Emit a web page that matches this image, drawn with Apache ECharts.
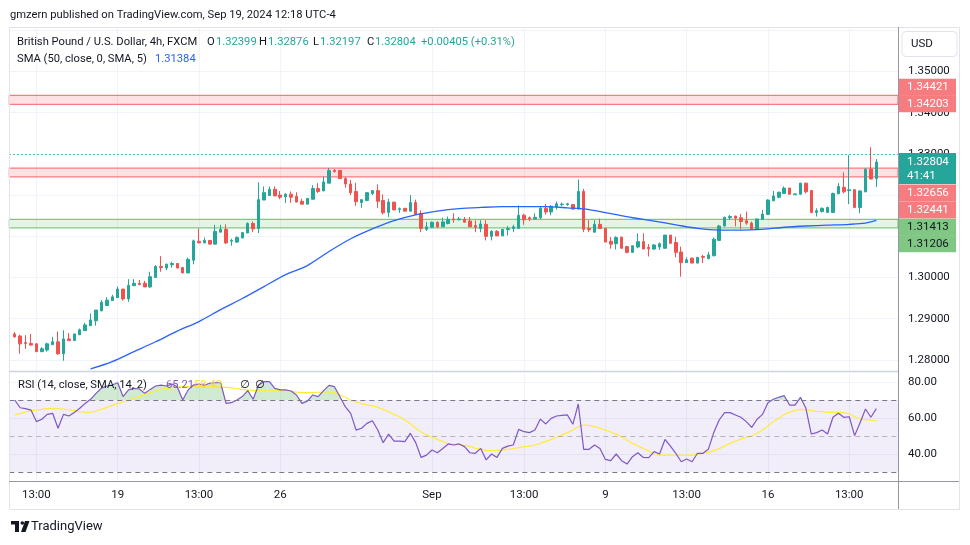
<!DOCTYPE html>
<html>
<head>
<meta charset="utf-8">
<script src="https://cdn.jsdelivr.net/npm/echarts@6.0.0/dist/echarts.min.js"></script>
<style>
html,body{margin:0;padding:0;background:#ffffff;}
#chart{width:970px;height:545px;}
</style>
</head>
<body>
<div id="chart"></div>
<script>
// ---------- DATA ----------
// 4h FXCM sessions (UTC-4): date and bar opening hours
const sessions = [
  ['2024-08-13',[21]], ['2024-08-14',[1,5,9,13,17,21]], ['2024-08-15',[1,5,9,13,17,21]], ['2024-08-16',[1,5,9,13]],
  ['2024-08-18',[17,21]], ['2024-08-19',[1,5,9,13,17,21]], ['2024-08-20',[1,5,9,13,17,21]], ['2024-08-21',[1,5,9,13,17,21]],
  ['2024-08-22',[1,5,9,13,17,21]], ['2024-08-23',[1,5,9,13]], ['2024-08-25',[17,21]], ['2024-08-26',[1,5,9,13,17,21]],
  ['2024-08-27',[1,5,9,13,17,21]], ['2024-08-28',[1,5,9,13,17,21]], ['2024-08-29',[1,5,9,13,17,21]], ['2024-08-30',[1,5,9,13]],
  ['2024-09-01',[17,21]], ['2024-09-02',[1,5,9,13,17,21]], ['2024-09-03',[1,5,9,13,17,21]], ['2024-09-04',[1,5,9,13,17,21]],
  ['2024-09-05',[1,5,9,13,17,21]], ['2024-09-06',[1,5,9,13]], ['2024-09-08',[17,21]], ['2024-09-09',[1,5,9,13,17,21]],
  ['2024-09-10',[1,5,9,13,17,21]], ['2024-09-11',[1,5,9,13,17,21]], ['2024-09-12',[1,5,9,13,17,21]], ['2024-09-13',[1,5,9,13]],
  ['2024-09-15',[17,21]], ['2024-09-16',[1,5,9,13,17,21]], ['2024-09-17',[1,5,9,13,17,21]], ['2024-09-18',[1,5,9,13,17,21]],
  ['2024-09-19',[1,5,9]]
];

const opens = [
1.2863,1.2858,1.2842,1.2840,1.2839,1.2820,1.2824,1.2837,1.2844,1.2815,
1.2851,1.2847,1.2861,1.2871,1.2883,1.2895,1.2919,1.2932,1.2944,1.2951,
1.2972,1.2948,1.2980,1.2986,1.2986,1.2977,1.3000,1.3027,1.3023,1.3031,
1.3034,1.3024,1.3011,1.3042,1.3088,1.3084,1.3090,1.3081,1.3110,1.3117,
1.3088,1.3086,1.3096,1.3108,1.3131,1.3119,1.3188,1.3199,1.3214,1.3200,
1.3196,1.3202,1.3197,1.3185,1.3178,1.3190,1.3216,1.3210,1.3229,1.3260,
1.3260,1.3240,1.3227,1.3209,1.3182,1.3187,1.3204,1.3211,1.3187,1.3158,
1.3183,1.3165,1.3168,1.3161,1.3182,1.3155,1.3117,1.3122,1.3134,1.3123,
1.3131,1.3142,1.3140,1.3141,1.3137,1.3126,1.3119,1.3129,1.3100,1.3112,
1.3101,1.3116,1.3119,1.3119,1.3151,1.3145,1.3142,1.3145,1.3168,1.3159,
1.3171,1.3177,1.3177,1.3177,1.3166,1.3209,1.3119,1.3110,1.3129,1.3119,
1.3088,1.3082,1.3098,1.3075,1.3061,1.3074,1.3087,1.3073,1.3069,1.3074,
1.3071,1.3103,1.3085,1.3062,1.3036,1.3047,1.3035,1.3051,1.3046,1.3053,
1.3090,1.3125,1.3145,1.3149,1.3145,1.3138,1.3132,1.3117,1.3141,1.3153,
1.3186,1.3195,1.3204,1.3217,1.3201,1.3202,1.3229,1.3211,1.3158,1.3160,
1.3158,1.3158,1.3203,1.3219,1.3211,1.3213,1.3170,1.3208,1.3263,1.32399];

const highs = [
1.2868,1.2861,1.2860,1.2863,1.2840,1.2831,1.2842,1.2856,1.2869,1.2872,
1.2865,1.2863,1.2876,1.2890,1.2913,1.2921,1.2945,1.2952,1.2958,1.2978,
1.2972,1.2996,1.2996,1.2994,1.2992,1.3014,1.3030,1.3052,1.3034,1.3038,
1.3034,1.3026,1.3048,1.3092,1.3119,1.3097,1.3090,1.3128,1.3128,1.3129,
1.3094,1.3100,1.3109,1.3134,1.3136,1.3231,1.3221,1.3221,1.3221,1.3210,
1.3205,1.3209,1.3207,1.3191,1.3193,1.3224,1.3229,1.3245,1.3266,1.3263,
1.3261,1.3244,1.3237,1.3230,1.3189,1.3207,1.3211,1.3226,1.3202,1.3191,
1.3183,1.3170,1.3168,1.3200,1.3189,1.3163,1.3135,1.3136,1.3136,1.3145,
1.3148,1.3156,1.3147,1.3147,1.3147,1.3139,1.3139,1.3139,1.3115,1.3115,
1.3117,1.3125,1.3128,1.3175,1.3155,1.3148,1.3156,1.3171,1.3179,1.3175,
1.3184,1.3182,1.3181,1.3177,1.3238,1.3215,1.3139,1.3139,1.3143,1.3119,
1.3098,1.3100,1.3099,1.3077,1.3077,1.3107,1.3107,1.3081,1.3081,1.3085,
1.3103,1.3103,1.3099,1.3075,1.3049,1.3049,1.3049,1.3055,1.3062,1.3097,
1.3128,1.3148,1.3152,1.3150,1.3154,1.3160,1.3136,1.3143,1.3164,1.3190,
1.3210,1.3208,1.3221,1.3218,1.3203,1.3230,1.3230,1.3212,1.3168,1.3170,
1.3172,1.3206,1.3229,1.3255,1.3297,1.3214,1.3212,1.3265,1.3316,1.32876];

const lows = [
1.2854,1.2815,1.2827,1.2835,1.2819,1.2819,1.2820,1.2837,1.2812,1.2798,
1.2847,1.2847,1.2861,1.2871,1.2883,1.2883,1.2919,1.2931,1.2944,1.2951,
1.2944,1.2941,1.2980,1.2981,1.2977,1.2975,1.3000,1.3014,1.3018,1.3024,
1.3023,1.3011,1.3011,1.3032,1.3084,1.3084,1.3081,1.3081,1.3110,1.3081,
1.3077,1.3084,1.3096,1.3108,1.3110,1.3108,1.3188,1.3198,1.3198,1.3190,
1.3181,1.3181,1.3183,1.3178,1.3178,1.3190,1.3205,1.3210,1.3229,1.3255,
1.3240,1.3218,1.3200,1.3174,1.3169,1.3185,1.3200,1.3169,1.3153,1.3147,
1.3164,1.3157,1.3161,1.3161,1.3153,1.3110,1.3113,1.3120,1.3120,1.3123,
1.3129,1.3133,1.3139,1.3134,1.3123,1.3110,1.3110,1.3090,1.3090,1.3101,
1.3101,1.3102,1.3110,1.3119,1.3128,1.3137,1.3142,1.3141,1.3153,1.3151,
1.3165,1.3173,1.3174,1.3166,1.3166,1.3110,1.3110,1.3110,1.3119,1.3086,
1.3070,1.3068,1.3069,1.3059,1.3061,1.3071,1.3069,1.3051,1.3067,1.3067,
1.3070,1.3083,1.3049,1.3002,1.3036,1.3035,1.3035,1.3035,1.3044,1.3051,
1.3090,1.3124,1.3140,1.3124,1.3117,1.3128,1.3117,1.3116,1.3140,1.3152,
1.3186,1.3192,1.3203,1.3202,1.3201,1.3202,1.3204,1.3156,1.3148,1.3158,
1.3157,1.3157,1.3203,1.3204,1.3178,1.3168,1.3156,1.3207,1.3239,1.32197];

const closes = [
1.2856,1.2839,1.2840,1.2836,1.2820,1.2827,1.2839,1.2844,1.2815,1.2851,
1.2847,1.2863,1.2873,1.2885,1.2897,1.2921,1.2940,1.2945,1.2953,1.2972,
1.2948,1.2981,1.2986,1.2983,1.2977,1.3002,1.3027,1.3024,1.3032,1.3034,
1.3023,1.3011,1.3044,1.3089,1.3084,1.3090,1.3081,1.3112,1.3117,1.3084,
1.3090,1.3097,1.3109,1.3131,1.3118,1.3189,1.3206,1.3214,1.3198,1.3195,
1.3202,1.3195,1.3183,1.3178,1.3192,1.3216,1.3209,1.3232,1.3260,1.3257,
1.3240,1.3227,1.3206,1.3184,1.3189,1.3206,1.3211,1.3185,1.3157,1.3183,
1.3164,1.3167,1.3161,1.3182,1.3153,1.3119,1.3123,1.3134,1.3123,1.3135,
1.3141,1.3140,1.3142,1.3134,1.3123,1.3122,1.3130,1.3100,1.3112,1.3101,
1.3117,1.3119,1.3123,1.3151,1.3140,1.3142,1.3146,1.3168,1.3159,1.3173,
1.3179,1.3178,1.3179,1.3166,1.3209,1.3117,1.3116,1.3129,1.3119,1.3086,
1.3081,1.3097,1.3071,1.3061,1.3077,1.3087,1.3069,1.3070,1.3079,1.3082,
1.3103,1.3083,1.3061,1.3036,1.3043,1.3035,1.3049,1.3049,1.3055,1.3093,
1.3125,1.3146,1.3148,1.3144,1.3136,1.3132,1.3117,1.3142,1.3154,1.3188,
1.3198,1.3207,1.3217,1.3202,1.3203,1.3229,1.3208,1.3158,1.3162,1.3168,
1.3170,1.3204,1.3221,1.3208,1.3213,1.3170,1.3210,1.3263,1.3239,1.32804];

// SMA(50) read at sampled bars (bar index, value)
const smaIdx = [14,18,22,26,30,34,38,42,46,50,54,58,62,66,70,74,78,82,86,90,94,98,102,106,110,114,118,122,126,130,134,138,142,146,150,154,157,159];
const smaVal = [1.2778,1.2796,1.2820,1.2844,1.2870,1.2893,1.2922,1.2949,1.2978,1.3007,1.3029,1.3063,1.3094,1.3118,1.3138,1.3152,1.3161,1.3167,1.3170,1.3172,1.3172,1.3172,1.3169,1.3165,1.3155,1.3145,1.3137,1.3128,1.3119,1.3115,1.3115,1.3117,1.3122,1.3125,1.3127,1.3129,1.3132,1.31384];

const rsi = [
70.0,65.7,65.2,64.4,58.0,59.3,62.0,62.6,54.3,62.0,
61.1,63.1,65.4,68.1,70.4,73.7,76.5,77.8,78.3,79.6,
71.9,75.6,76.5,76.1,73.7,75.9,77.8,78.3,77.8,78.9,
77.4,70.0,75.6,78.3,78.9,78.3,79.3,79.6,79.6,68.1,
68.5,70.0,71.9,75.2,70.4,78.3,80.2,80.2,76.5,75.6,
75.6,75.0,72.8,68.1,69.4,72.8,71.9,75.2,78.1,77.4,
71.9,66.3,62.6,53.3,54.3,57.0,58.5,53.3,46.3,51.1,
47.2,47.2,46.9,51.5,46.3,38.1,39.4,42.2,40.7,43.1,
45.6,45.0,45.6,44.1,40.7,40.4,43.1,36.7,40.0,38.1,
43.1,44.4,45.0,53.7,52.4,51.9,53.3,59.4,56.7,59.8,
61.1,61.5,61.7,56.5,67.8,42.6,42.6,45.0,43.1,37.0,
36.3,40.0,36.3,34.4,38.5,40.7,38.1,38.0,41.3,40.0,
48.1,44.4,40.4,35.7,37.2,35.7,40.4,40.4,42.6,51.9,
58.9,63.0,63.0,61.7,60.4,58.0,54.8,59.3,62.0,68.5,
70.4,71.5,72.4,67.2,67.2,71.5,65.4,51.1,51.9,53.3,
51.1,60.4,62.6,60.4,60.7,50.2,57.4,65.0,60.4,65.21];

const rsiMa = [
61.5,62.6,63.3,64.1,64.4,64.8,65.2,65.4,65.2,65.0,
64.6,64.1,63.5,63.1,63.1,63.9,64.8,65.9,67.0,68.1,
68.9,70.0,70.9,72.0,73.0,74.1,75.0,75.9,76.5,76.9,
77.2,77.4,77.4,77.4,77.4,77.4,77.4,77.4,77.2,77.0,
76.7,76.3,75.9,75.6,75.2,75.2,75.4,75.6,75.4,75.2,
75.0,74.8,74.4,74.1,74.1,74.1,74.3,74.3,74.3,74.1,
72.8,71.5,70.0,68.9,68.0,67.2,66.7,65.9,64.8,63.5,
62.0,60.7,58.9,57.0,54.3,52.4,50.6,49.3,48.1,47.0,
45.6,45.4,45.2,44.8,44.4,43.1,42.6,42.0,41.9,42.0,
42.2,42.6,43.0,43.5,44.1,44.4,45.0,45.9,47.0,48.1,
49.3,50.6,51.9,53.3,55.2,56.1,55.9,55.2,54.3,53.3,
52.2,50.9,49.6,47.8,45.9,44.4,43.1,41.7,40.0,39.4,
39.4,39.4,39.4,39.4,39.4,39.3,39.8,40.4,40.9,41.9,
43.0,44.4,45.9,47.2,48.3,49.3,50.0,51.5,53.3,55.6,
58.0,59.8,62.0,63.3,64.3,64.8,64.6,64.1,63.7,63.5,
63.1,63.1,63.0,63.0,62.2,60.7,59.6,59.1,58.7,58.43];

// Drawn zones and price tags
const redZoneA = [1.34421, 1.34203];
const redZoneB = [1.32656, 1.32441];
const greenZone = [1.31413, 1.31206];
const lastPrice = 1.32804;
const tagValues = [1.34421, 1.34203, 1.32804, 1.32656, 1.32441, 1.31413, 1.31206];
const tagTexts = ['1.34421','1.34203','1.32804','1.32656','1.32441','1.31413','1.31206'];

// Time-axis tick labels
const tickCats = ['2024-08-14 13:00','2024-08-19 01:00','2024-08-21 13:00','2024-08-26 01:00','2024-09-01 17:00','2024-09-04 13:00','2024-09-09 01:00','2024-09-11 13:00','2024-09-16 01:00','2024-09-18 13:00'];
const tickText = ['13:00','19','13:00','26','Sep','13:00','9','13:00','16','13:00'];

// ---------- BUILD ----------
const times = [];
sessions.forEach(([d, hs]) => hs.forEach(h => times.push(d + ' ' + String(h).padStart(2,'0') + ':00')));
const cats = ['pad-1'].concat(times, ['pad+1','pad+2','pad+3','pad+4']);

const FONT = 'Roboto, "DejaVu Sans", sans-serif';
const UP = '#26a69a', DOWN = '#ef5350';
const GRID = '#f0f3fa';
const TXT = '#131722';
const FS = 11.2;   // legend font size
const AFS = 11.5;  // scale font size

const candleData = times.map((t, i) => [t, opens[i], closes[i], lows[i], highs[i]]);
const smaData = smaIdx.map((k, j) => [times[k], smaVal[j]]);
const rsiData = times.map((t, i) => [t, rsi[i]]);
const rsiMaData = times.map((t, i) => [t, rsiMa[i]]);

const showTick = (idx, val) => tickCats.indexOf(val) >= 0;

const chart = echarts.init(document.getElementById('chart'), null, {renderer: 'canvas'});

const option = {
  animation: false,
  backgroundColor: '#ffffff',
  textStyle: {fontFamily: FONT},
  grid: [
    {left: 9.3, top: 27, width: 888.7, height: 343},
    {left: 9.3, top: 372, width: 888.7, height: 109}
  ],
  xAxis: [
    {type: 'category', gridIndex: 0, data: cats, boundaryGap: false,
     axisLine: {show: false}, axisTick: {show: false}, axisLabel: {show: false},
     splitLine: {show: true, interval: showTick, lineStyle: {color: GRID, width: 1}}},
    {type: 'category', gridIndex: 1, data: cats, boundaryGap: false,
     axisLine: {show: false}, axisTick: {show: false},
     axisLabel: {show: true, interval: showTick, color: TXT, fontSize: AFS, fontFamily: FONT, margin: 8,
       formatter: v => { const k = tickCats.indexOf(v); return k >= 0 ? tickText[k] : ''; }},
     splitLine: {show: true, interval: showTick, lineStyle: {color: GRID, width: 1}}}
  ],
  yAxis: [
    {type: 'value', gridIndex: 0, position: 'right', min: 1.27755, max: 1.3608, splitNumber: 8,
     axisLine: {show: false}, axisTick: {show: false},
     axisLabel: {color: TXT, fontSize: AFS, fontFamily: FONT, margin: 10,
       formatter: v => (v > 1.355 || v < 1.2799) ? '' : v.toFixed(5)},
     splitLine: {show: true, lineStyle: {color: GRID, width: 1}}},
    {type: 'value', gridIndex: 1, position: 'right', min: 25, max: 85.56, splitNumber: 3,
     axisLine: {show: false}, axisTick: {show: false},
     axisLabel: {color: TXT, fontSize: AFS, fontFamily: FONT, margin: 10,
       formatter: v => (Math.abs(v - Math.round(v / 20) * 20) < 0.01 && v > 30 && v < 85) ? v.toFixed(2) : ''},
     splitLine: {show: true, lineStyle: {color: GRID, width: 1}}}
  ],
  visualMap: [{
    type: 'piecewise', show: false, seriesIndex: 2, dimension: 1,
    pieces: [{gt: 70, lte: 100, color: 'rgba(76,175,80,0.26)'}, {gte: 0, lte: 70, color: 'rgba(255,255,255,0)'}]
  }],
  series: [
    {
      type: 'candlestick', name: 'GBPUSD', xAxisIndex: 0, yAxisIndex: 0,
      data: candleData, encode: {x: 0, y: [1, 2, 3, 4]},
      barWidth: 3,
      itemStyle: {color: UP, color0: DOWN, borderColor: UP, borderColor0: DOWN, borderWidth: 1},
      markArea: {
        silent: true,
        data: [
          [{yAxis: redZoneA[0], itemStyle: {color: 'rgba(242,54,69,0.15)', borderColor: '#f77c80', borderWidth: 1.2}}, {yAxis: redZoneA[1]}],
          [{yAxis: redZoneB[0], itemStyle: {color: 'rgba(242,54,69,0.15)', borderColor: '#f77c80', borderWidth: 1.2}}, {yAxis: redZoneB[1]}],
          [{yAxis: greenZone[0], itemStyle: {color: 'rgba(76,175,80,0.14)', borderColor: '#81c784', borderWidth: 1.2}}, {yAxis: greenZone[1]}]
        ]
      },
      markLine: {
        silent: true, symbol: ['none', 'none'], label: {show: false},
        data: [{yAxis: lastPrice, lineStyle: {color: UP, type: [1.5, 2.5], width: 1}}]
      },
      z: 3
    },
    {
      type: 'line', name: 'SMA', xAxisIndex: 0, yAxisIndex: 0, data: smaData,
      showSymbol: false, smooth: 0.3, lineStyle: {color: '#2962ff', width: 1.3}, z: 4
    },
    {
      type: 'line', name: 'RSI fill', xAxisIndex: 1, yAxisIndex: 1, data: rsiData,
      showSymbol: false, lineStyle: {opacity: 0, width: 0}, areaStyle: {origin: 70, opacity: 1}, z: 2
    },
    {
      type: 'line', name: 'RSI-MA', xAxisIndex: 1, yAxisIndex: 1, data: rsiMaData,
      showSymbol: false, lineStyle: {color: '#ffeb3b', width: 1.2}, z: 3
    },
    {
      type: 'line', name: 'RSI', xAxisIndex: 1, yAxisIndex: 1, data: rsiData,
      showSymbol: false, lineStyle: {color: '#7e57c2', width: 1.2}, z: 4,
      markArea: {silent: true, data: [[{yAxis: 70, itemStyle: {color: 'rgba(126,87,194,0.1)'}}, {yAxis: 30}]]},
      markLine: {
        silent: true, symbol: ['none', 'none'], label: {show: false},
        data: [
          {yAxis: 70, lineStyle: {color: '#787b86', type: [5, 4], width: 1}},
          {yAxis: 50, lineStyle: {color: 'rgba(120,123,134,0.5)', type: [5, 4], width: 1}},
          {yAxis: 30, lineStyle: {color: '#787b86', type: [5, 4], width: 1}}
        ]
      }
    }
  ]
};
chart.setOption(option);

// ---------- decorations / legends / price tags ----------
const T = (x, y, text, color, size, weight) => ({
  type: 'text', x: x, y: y, z: 100, silent: true,
  style: {text: text, fill: color, font: (weight || 'normal') + ' ' + size + 'px ' + FONT,
          verticalAlign: 'middle', textVerticalAlign: 'middle', align: 'left'}
});
const L = (x1, y1, x2, y2, c) => ({type: 'line', z: 90, silent: true, shape: {x1, y1, x2, y2}, style: {stroke: c, lineWidth: 1}});

const g = [];
g.push({type: 'rect', z: 80, silent: true, shape: {x: 9.5, y: 27.5, width: 950, height: 482}, style: {fill: 'none', stroke: '#e0e3eb', lineWidth: 1}});
g.push(L(9, 371.5, 898, 371.5, '#d1d4dc'));
g.push(L(9, 481.5, 959, 481.5, '#9598a1'));
g.push(L(898.5, 27, 898.5, 509, '#9598a1'));

g.push(T(10, 15, 'gmzern published on TradingView.com, Sep 19, 2024 12:18 UTC-4', TXT, FS));
g.push(T(17, 42, 'British Pound / U.S. Dollar, 4h, FXCM', TXT, FS));
g.push(T(207, 42, 'O', TXT, FS)); g.push(T(216, 42, '1.32399', UP, FS));
g.push(T(259, 42, 'H', TXT, FS)); g.push(T(268, 42, '1.32876', UP, FS));
g.push(T(313, 42, 'L', TXT, FS)); g.push(T(320, 42, '1.32197', UP, FS));
g.push(T(367, 42, 'C', TXT, FS)); g.push(T(375, 42, '1.32804', UP, FS));
g.push(T(421, 42, '+0.00405 (+0.31%)', UP, FS));
g.push(T(17, 59, 'SMA (50, close, 0, SMA, 5)', TXT, FS));
g.push(T(155, 59, '1.31384', '#2962ff', FS));
g.push(T(18, 385, 'RSI (14, close, SMA, 14, 2)', TXT, FS));
g.push(T(166, 385, '65.21', '#7e57c2', FS));
g.push(T(194, 385, '58.43', '#fdd835', FS));
g.push(T(240, 385, '\u2205', TXT, FS));
g.push(T(255, 385, '\u2205', TXT, FS));

// USD button
g.push({type: 'rect', z: 95, silent: true, shape: {x: 902, y: 31.5, width: 55, height: 25, r: 4}, style: {fill: '#ffffff', stroke: '#e0e3eb', lineWidth: 1}});
g.push(T(911, 44.5, 'USD', TXT, AFS));

// price tags (positions derived from the price scale, shifted to avoid overlap)
const tagStyle = [
  {bg: '#f77c80', fg: '#ffffff', shift: -8},
  {bg: '#f77c80', fg: '#ffffff', shift: -0.6},
  {bg: UP,        fg: '#ffffff', shift: 0, extra: '41:41'},
  {bg: '#f77c80', fg: '#ffffff', shift: 25},
  {bg: '#f77c80', fg: '#ffffff', shift: 33},
  {bg: '#81c784', fg: TXT,       shift: 8},
  {bg: '#81c784', fg: TXT,       shift: 16}
];
tagValues.forEach((v, i) => {
  const s = tagStyle[i];
  const cy = chart.convertToPixel({yAxisIndex: 0}, v) + s.shift;
  const h = s.extra ? 31 : 17;
  const top = s.extra ? cy - 9 : cy - 8.5;
  g.push({type: 'rect', z: 96, silent: true, shape: {x: 899, y: top, width: 57, height: h}, style: {fill: s.bg}});
  g.push(Object.assign(T(907, cy, tagTexts[i], s.fg, AFS), {z: 97}));
  if (s.extra) g.push(Object.assign(T(907, cy + 14, s.extra, s.fg, AFS), {z: 97}));
});

// TradingView logo
g.push({type: 'rect', z: 100, silent: true, shape: {x: 11, y: 521, width: 8, height: 3.5}, style: {fill: '#131722'}});
g.push({type: 'rect', z: 100, silent: true, shape: {x: 15, y: 521, width: 4, height: 11}, style: {fill: '#131722'}});
g.push({type: 'circle', z: 100, silent: true, shape: {cx: 22.3, cy: 523, r: 1.8}, style: {fill: '#131722'}});
g.push({type: 'polygon', z: 100, silent: true, shape: {points: [[25, 521], [29.5, 521], [25.5, 532], [21, 532]]}, style: {fill: '#131722'}});
g.push(T(31, 527, 'TradingView', TXT, 13));

chart.setOption({graphic: {elements: g}});
</script>
</body>
</html>
